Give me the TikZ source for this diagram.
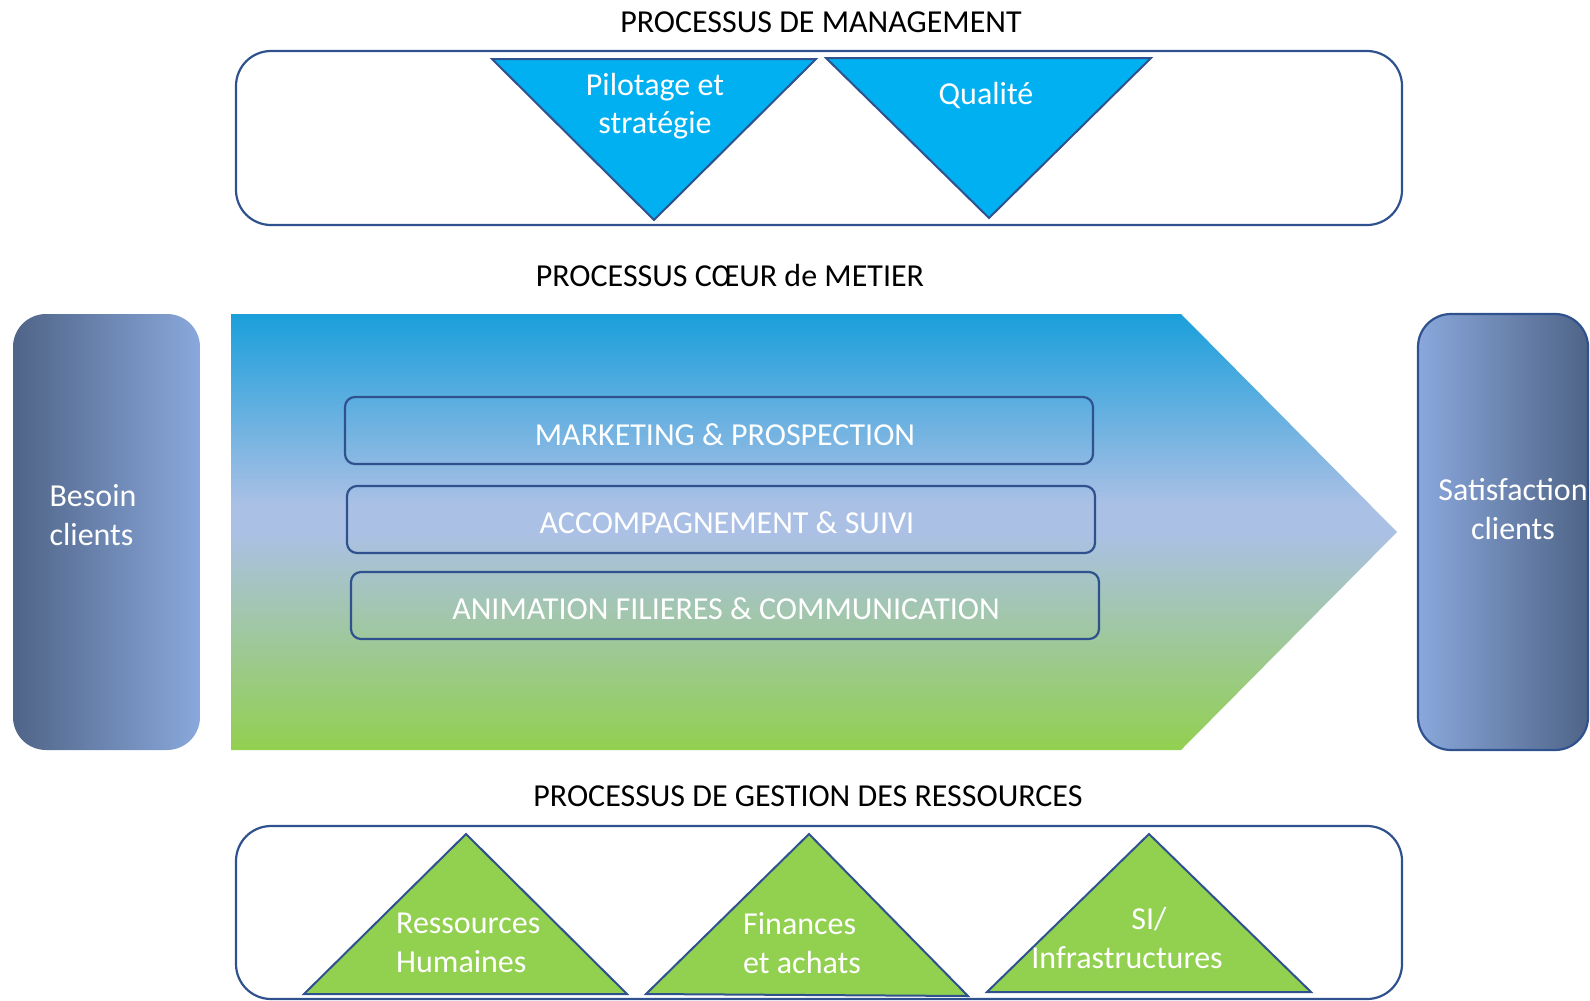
\documentclass[tikz,border=0pt]{standalone}
\usepackage{fontspec}
\setmainfont{Carlito}
\definecolor{edge}{HTML}{2F528F}
\definecolor{cyanfill}{HTML}{00B0F0}
\definecolor{greenfill}{HTML}{92D050}
\definecolor{slate}{HTML}{4F6487}
\definecolor{lightslate}{HTML}{8AA8DC}
\definecolor{coretop}{HTML}{1A9FDB}
\definecolor{coremid}{HTML}{ABC0E5}
\pgfdeclareverticalshading{coreshade}{100bp}{color(0bp)=(greenfill); color(25bp)=(greenfill); color(50bp)=(coremid); color(53bp)=(coremid); color(75bp)=(coretop); color(100bp)=(coretop)}

\begin{document}
\begin{tikzpicture}[x=1pt,y=-1pt,
        lbl/.style={font=\fontsize{32}{38.5}\selectfont, align=center, inner sep=0pt},
        wlbl/.style={lbl, text=white},
        frame/.style={draw=edge, line width=2.2pt, rounded corners=35pt},
        tri/.style={draw=edge, line width=2pt, line join=miter},
        bar/.style={draw=edge, line width=2.2pt, rounded corners=10pt, minimum width=748pt, minimum height=67pt}]
            \useasboundingbox (0,0) rectangle (1590,1001);

            \node[lbl] (mgt) at (821,22) {PROCESSUS DE MANAGEMENT};
            \draw[frame] (236,51) rectangle (1402,225);
            \draw[tri, fill=cyanfill] (492,59) -- (816,59) -- (654,220) -- cycle;
            \draw[tri, fill=cyanfill] (826,58) -- (1151,58) -- (989,218) -- cycle;
            \node[wlbl] (pil) at (655,106) {Pilotage et\\stratégie};
            \node[wlbl] (qual) at (986,96) {Qualité};

            \node[lbl] (core) at (730,276) {PROCESSUS CŒUR de METIER};
            \shade[left color=slate, right color=lightslate, rounded corners=33pt] (13,314) rectangle (200,750);
            \shade[shading=coreshade] (231,314) -- (1181,314) -- (1397,532) -- (1181,750) -- (231,750) -- cycle;
            \shade[left color=lightslate, right color=slate, rounded corners=33pt] (1418,314) rectangle (1588,750);
            \draw[edge, line width=2.2pt, rounded corners=33pt] (1418,314) rectangle (1588,750);
            \node[wlbl, align=left] (bes) at (93,515) {Besoin\\clients};
            \node[wlbl] (sat) at (1513,509) {Satisfaction\\clients};
            \node[bar] (mk) at (719,430.5) {};
            \node[bar] (acc) at (721,519.5) {};
            \node[bar] (anim) at (725,605.5) {};
            \node[wlbl, xshift=6pt, yshift=-4pt] (mktxt) at (mk) {MARKETING \& PROSPECTION};
            \node[wlbl, xshift=6pt, yshift=-3pt] (acctxt) at (acc) {ACCOMPAGNEMENT \& SUIVI};
            \node[wlbl, xshift=1pt, yshift=-3pt] (animtxt) at (anim) {ANIMATION FILIERES \& COMMUNICATION};

            \node[lbl] (res) at (808,796) {PROCESSUS DE GESTION DES RESSOURCES};
            \draw[frame] (236,826) rectangle (1402,999);
            \draw[tri, fill=greenfill] (466,834) -- (627,994) -- (304,994) -- cycle;
            \draw[tri, fill=greenfill] (809,834) -- (968,996) -- (646,994) -- cycle;
            \draw[tri, fill=greenfill] (1149,834) -- (1311,992) -- (987,992) -- cycle;
            \node[wlbl, align=left, anchor=west] (rh) at (396,943) {Ressources\\Humaines};
            \node[wlbl, align=left, anchor=west] (fin) at (743,943) {Finances\\et achats};
            \node[wlbl] (si) at (1127,938) {\hspace*{44pt}SI/\\Infrastructures};
        \end{tikzpicture}
\end{document}
